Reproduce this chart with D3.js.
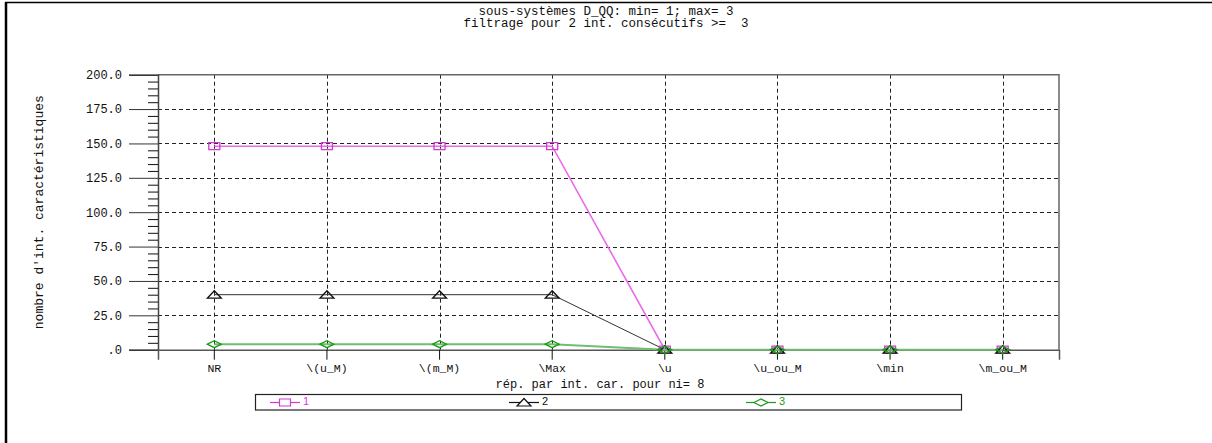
<!DOCTYPE html>
<html>
<meta charset="utf-8">
<style>
  body { margin: 0; padding: 0; background: #fff; }
  text { font-family: "Liberation Mono", "Courier New", monospace; font-size: 12px; fill: #111; white-space: pre; }
  .legtxt { font-family: "Liberation Sans", Arial, sans-serif; font-size: 11px; }
</style>
<body>
<div id="chart"></div>
<script src="https://d3js.org/d3.v7.min.js"></script>
<script>

// data
var categories = ["NR", "\\(u_M)", "\\(m_M)", "\\Max", "\\u", "\\u_ou_M", "\\min", "\\m_ou_M"];
var serie1 = [148, 148, 148, 148, 0, 0, 0, 0];
var serie2 = [40, 40, 40, 40, 0, 0, 0, 0];
var serie3 = [4, 4, 4, 4, 0, 0, 0, 0];
var seriesNames = ["1", "2", "3"];
var yTicks = [0, 25, 50, 75, 100, 125, 150, 175, 200];
var titleLines = ["sous-systèmes D_QQ: min= 1; max= 3", "filtrage pour 2 int. consécutifs >=  3"];
var xTitle = "rép. par int. car. pour ni= 8";
var yTitle = "nombre d'int. caractéristiques";

var W = 1212, H = 443;
var plot = {left: 158, right: 1059, top: 74.7, bottom: 349.7};

var svg = d3.select("#chart").append("svg")
    .attr("width", W).attr("height", H);

// outer frame (top + left only)
svg.append("line").attr("x1", 5).attr("x2", W).attr("y1", 2.5).attr("y2", 2.5)
    .attr("stroke", "#000").attr("stroke-width", 1.5);
svg.append("line").attr("x1", 6).attr("x2", 6).attr("y1", 2).attr("y2", H)
    .attr("stroke", "#000").attr("stroke-width", 2.5);

// titles
svg.selectAll(".title").data(titleLines).enter().append("text")
    .attr("x", 606).attr("y", function(d, i) { return 15 + i * 12; })
    .attr("text-anchor", "middle").style("font-size", "12.5px")
    .text(function(d) { return d; });

var x = d3.scaleBand().domain(categories).range([plot.left, plot.right]);
var y = d3.scaleLinear().domain([0, 200]).range([plot.bottom, plot.top]);
function cx(c) { return x(c) + x.bandwidth() / 2; }

// gridlines
svg.append("g").selectAll("line").data(yTicks.filter(function(d) { return d > 0 && d < 200; }))
  .enter().append("line")
    .attr("x1", plot.left).attr("x2", plot.right)
    .attr("y1", function(d) { return Math.round(y(d)) + 0.5; })
    .attr("y2", function(d) { return Math.round(y(d)) + 0.5; })
    .attr("stroke", "#222").attr("stroke-dasharray", "4,3");
svg.append("g").selectAll("line").data(categories).enter().append("line")
    .attr("x1", function(d) { return Math.round(cx(d)) + 0.5; })
    .attr("x2", function(d) { return Math.round(cx(d)) + 0.5; })
    .attr("y1", plot.top).attr("y2", plot.bottom)
    .attr("stroke", "#222").attr("stroke-dasharray", "4,3");

// plot frame
svg.append("path")
    .attr("d", "M" + plot.left + "," + plot.top + "H" + plot.right + "V" + plot.bottom)
    .attr("fill", "none").attr("stroke", "#666").attr("stroke-width", 1.5);

// y axis: major + minor ticks
var yAxis = d3.axisLeft(y).tickValues(yTicks).tickSize(29).tickPadding(7)
    .tickFormat(function(d) { return d === 0 ? ".0" : d.toFixed(1); });
var gy = svg.append("g").attr("transform", "translate(" + plot.left + ",0)").call(yAxis);
gy.select(".domain").attr("stroke", "#444").attr("stroke-width", 1.5);
gy.selectAll(".tick line").attr("stroke", "#333");
gy.selectAll("text").style("font-size", "12px").attr("fill", "#111");

var minor = d3.range(0, 201, 5).filter(function(d) { return d % 25 !== 0; });
var gm = svg.append("g").attr("transform", "translate(" + plot.left + ",0)")
    .call(d3.axisLeft(y).tickValues(minor).tickSize(10).tickFormat(""));
gm.select(".domain").remove();
gm.selectAll(".tick line").attr("stroke", "#111");

// x axis
var xAxis = d3.axisBottom(x).tickSize(10).tickPadding(4);
var gx = svg.append("g").attr("transform", "translate(0," + plot.bottom + ")").call(xAxis);
gx.select(".domain").attr("stroke", "#555").attr("stroke-width", 1.5);
gx.selectAll(".tick line").attr("stroke", "#111");
gx.selectAll("text").style("font-size", "11.5px").attr("fill", "#111");

// axis titles
svg.append("text").attr("x", 600).attr("y", 388).attr("text-anchor", "middle")
    .style("font-size", "12px").text(xTitle);
svg.append("text").attr("transform", "translate(43," + ((plot.top + plot.bottom) / 2) + ") rotate(-90)")
    .attr("text-anchor", "middle").style("font-size", "13px").text(yTitle);

// series
var series = [
  {name: seriesNames[0], values: serie1, line: "#ea6aea", mark: "#d23ad2", width: 1.6, shape: "square"},
  {name: seriesNames[1], values: serie2, line: "#333", mark: "#111", width: 1, shape: "triangle"},
  {name: seriesNames[2], values: serie3, line: "#6fbf6f", mark: "#1f9a1f", width: 2, shape: "diamond"}
];

function markerPath(shape, px, py) {
  if (shape === "square") return "M" + (px - 5.5) + "," + (py - 3.5) + "h11v7h-11z";
  if (shape === "triangle") return "M" + (px - 7) + "," + (py + 3.5) + "L" + px + "," + (py - 4) + "L" + (px + 7) + "," + (py + 3.5) + "z";
  return "M" + (px - 7) + "," + py + "L" + px + "," + (py - 3.5) + "L" + (px + 7) + "," + py + "L" + px + "," + (py + 3.5) + "z";
}

var line = d3.line().x(function(d, i) { return cx(categories[i]); }).y(function(d) { return y(d); });

series.forEach(function(s) {
  svg.append("path").datum(s.values).attr("d", line)
      .attr("fill", "none").attr("stroke", s.line).attr("stroke-width", s.width);
});
series.forEach(function(s) {
  svg.append("g").selectAll("path").data(s.values).enter().append("path")
      .attr("d", function(d, i) { return markerPath(s.shape, cx(categories[i]), y(d)); })
      .attr("fill", "none")
      .attr("stroke", s.mark).attr("stroke-width", 1.3);
});

// legend
var leg = svg.append("g");
leg.append("rect").attr("x", 255.5).attr("y", 394.5).attr("width", 706).attr("height", 15.5)
    .attr("fill", "#fff").attr("stroke", "#222").attr("stroke-width", 1.2);
var legX = [270, 509, 746];
series.forEach(function(s, i) {
  var lx = legX[i], ly = 402.5;
  leg.append("line").attr("x1", lx).attr("x2", lx + 30).attr("y1", ly).attr("y2", ly)
      .attr("stroke", s.mark).attr("stroke-width", 1.2);
  leg.append("path").attr("d", markerPath(s.shape, lx + 15, ly))
      .attr("fill", "#fff").attr("stroke", s.mark).attr("stroke-width", 1.2);
  leg.append("text").attr("class", "legtxt").attr("x", lx + 33).attr("y", ly + 2)
      .attr("fill", s.mark).style("fill", s.mark).text(s.name);
});

</script>
</body>
</html>
